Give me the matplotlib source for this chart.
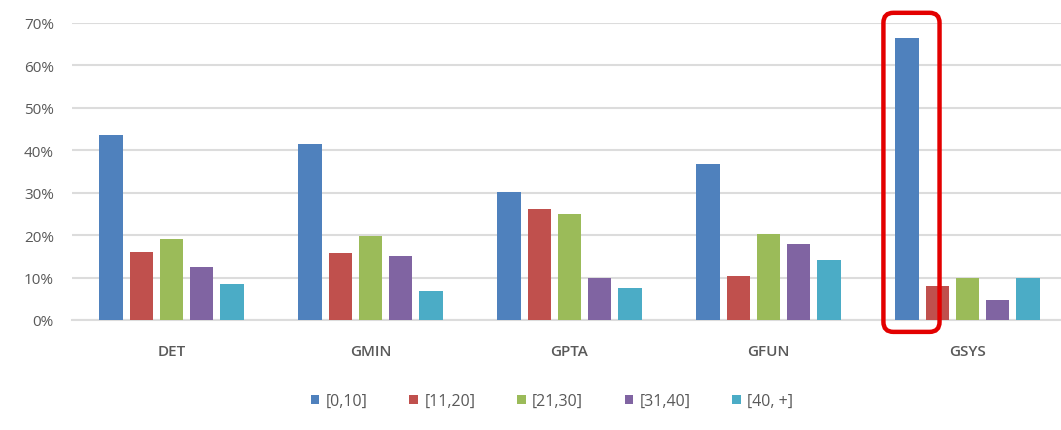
import matplotlib
matplotlib.use("Agg")
import matplotlib.pyplot as plt
import numpy as np
from matplotlib.patches import FancyBboxPatch
from matplotlib.ticker import PercentFormatter

plt.rcParams["font.family"] = ["Open Sans", "DejaVu Sans"]

categories = ["DET", "GMIN", "GPTA", "GFUN", "GSYS"]
series_names = ["[0,10]", "[11,20]", "[21,30]", "[31,40]", "[40, +]"]
colors = ["#4F81BD", "#C0504D", "#9BBB59", "#8064A2", "#4BACC6"]

# share of each range per category (percent)
s_0_10 = [43.6, 41.5, 30.2, 36.8, 66.5]
s_11_20 = [16.0, 15.8, 26.2, 10.3, 8.0]
s_21_30 = [19.1, 19.8, 25.0, 20.2, 10.0]
s_31_40 = [12.5, 15.1, 9.9, 17.9, 4.8]
s_40_up = [8.6, 6.9, 7.5, 14.2, 9.9]
series = [s_0_10, s_11_20, s_21_30, s_31_40, s_40_up]

GRID = "#DCDCDC"
TEXT = "#595959"

fig = plt.figure(figsize=(10.61, 4.31), dpi=100)
ax = fig.add_axes([72 / 1061, 110 / 431, (1061 - 72) / 1061, 297 / 431])

x = np.arange(len(categories))
pitch = 0.152
width = 0.117
for i, (name, vals, c) in enumerate(zip(series_names, series, colors)):
    ax.bar(x + (i - 2) * pitch, vals, width, color=c, label=name, zorder=3)

ax.set_xlim(-0.5, -0.5 + (1061 - 72) / 199)
ax.set_ylim(0, 70)
ax.set_yticks(range(0, 71, 10))
ax.yaxis.set_major_formatter(PercentFormatter(decimals=0))
ax.grid(axis="y", color=GRID, linewidth=1.5, zorder=0)
for side in ["top", "right", "left"]:
    ax.spines[side].set_visible(False)
ax.spines["bottom"].set_color(GRID)
ax.spines["bottom"].set_linewidth(1.5)
ax.tick_params(axis="both", length=0, colors=TEXT, labelsize=11)
ax.tick_params(axis="y", pad=13)
ax.tick_params(axis="x", pad=17)
ax.set_xticks(x)
ax.set_xticklabels(categories, fontweight="semibold")

# highlight box around the GSYS [0,10] bar
bx = x[4] - 2 * pitch
box = FancyBboxPatch((bx - width / 2 - 0.06, -2.8), width + 0.165, 75.2,
                     boxstyle="round,pad=0,rounding_size=0.05",
                     mutation_aspect=100 * 199 / 424.3,
                     fill=False, edgecolor="#E30000", linewidth=3.2,
                     clip_on=False, zorder=5)
ax.add_patch(box)

leg = fig.legend(loc="center", bbox_to_anchor=(552 / 1061, 1 - 402 / 431),
                 ncol=5, frameon=False, fontsize=11.5, handlelength=0.55,
                 handleheight=0.55, handletextpad=0.4, columnspacing=2.6)
for t in leg.get_texts():
    t.set_color(TEXT)

fig.savefig("out.png", dpi=100)
